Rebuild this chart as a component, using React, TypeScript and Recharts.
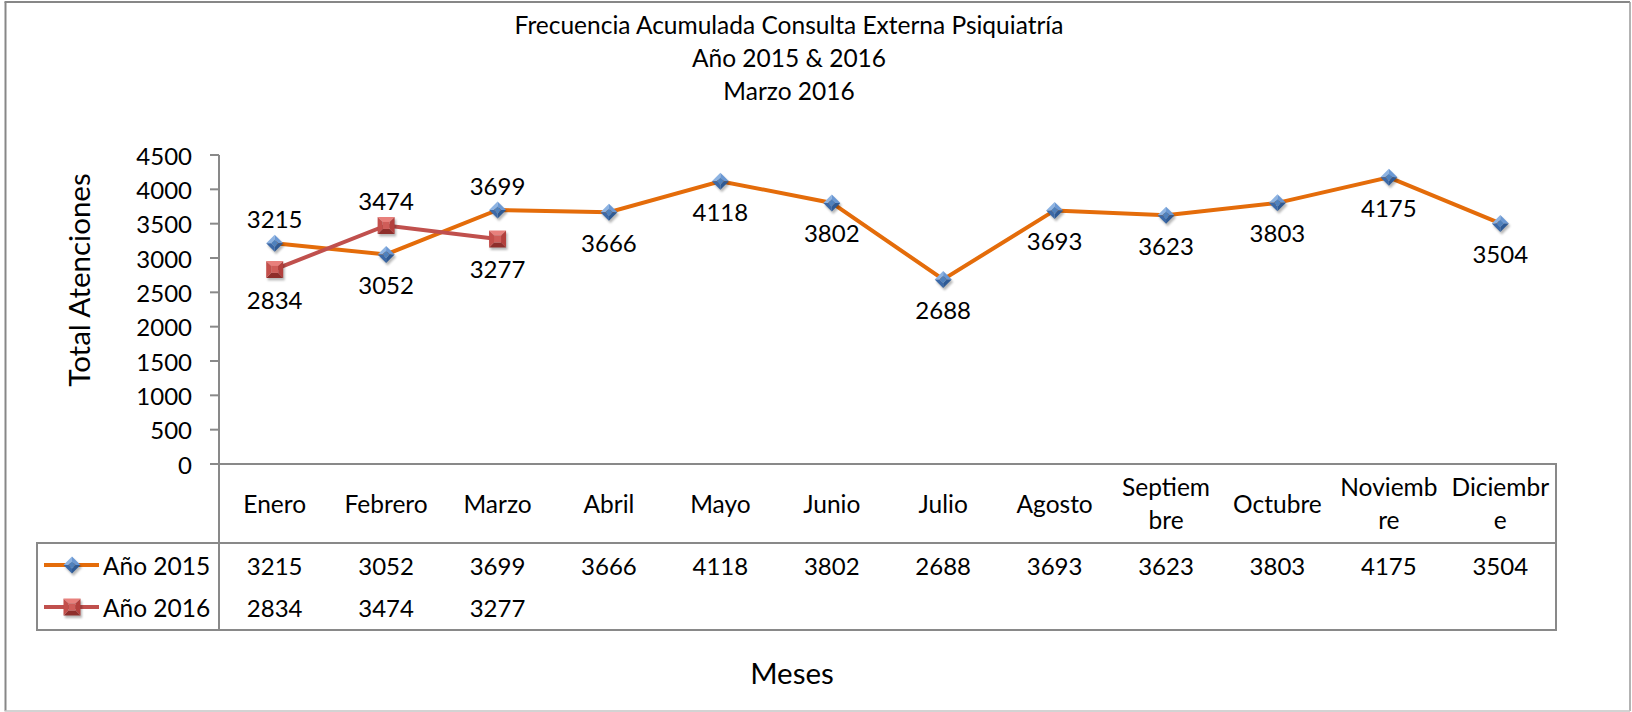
import React from 'react';
import { LineChart, Line, XAxis, YAxis, LabelList } from 'recharts';

// ---------- data ----------
const months = ['Enero', 'Febrero', 'Marzo', 'Abril', 'Mayo', 'Junio', 'Julio', 'Agosto', 'Septiembre', 'Octubre', 'Noviembre', 'Diciembre'];
const monthTickLines = [['Enero'], ['Febrero'], ['Marzo'], ['Abril'], ['Mayo'], ['Junio'], ['Julio'], ['Agosto'], ['Septiem', 'bre'], ['Octubre'], ['Noviemb', 're'], ['Diciembr', 'e']];
const values2015 = [3215, 3052, 3699, 3666, 4118, 3802, 2688, 3693, 3623, 3803, 4175, 3504];
const values2016: (number | null)[] = [2834, 3474, 3277, null, null, null, null, null, null, null, null, null];
const yTicks = [0, 500, 1000, 1500, 2000, 2500, 3000, 3500, 4000, 4500];
const seriesNames = ['Año 2015', 'Año 2016'];
const labelSide2015 = ['above', 'below', 'above', 'below', 'below', 'below', 'below', 'below', 'below', 'below', 'below', 'below'];
const labelSide2016 = ['below', 'above', 'below'];
const titleLines = ['Frecuencia Acumulada Consulta Externa Psiquiatría', 'Año 2015 & 2016', 'Marzo 2016'];
const yAxisTitle = 'Total Atenciones';
const xAxisTitle = 'Meses';

// ---------- layout / style ----------
const W = 1632;
const H = 712;
const PLOT_LEFT = 219;
const PLOT_RIGHT = 1556;
const PLOT_TOP = 155;
const PLOT_BOTTOM = 464;
const TABLE_TOP = 543;
const TABLE_BOTTOM = 630;
const TABLE_LEFT = 37;
const ROW1_Y = 565;
const ROW2_Y = 607;
const CAT_Y = 503;
const BAND = (PLOT_RIGHT - PLOT_LEFT) / months.length;
const FONT = 'Lato, "Open Sans", sans-serif';
const FS = 24;
const TXT_FS = 24.5;
const BIG_FS = 29.5;
const GRID = '#898989';
const ORANGE = '#E46C0A';
const RED = '#C0504D';
const LINE_W = 4;

const data = months.map((m, i) => ({ month: m, a2015: values2015[i], a2016: values2016[i] }));

const Diamond = ({ cx, cy }: { cx: number; cy: number }) => {
  const r = 8.5;
  const ri = 3.6;
  const T = [cx, cy - r], R = [cx + r, cy], B = [cx, cy + r], L = [cx - r, cy];
  const t = [cx, cy - ri], rr = [cx + ri, cy], b = [cx, cy + ri], l = [cx - ri, cy];
  const p = (...pts: number[][]) => pts.map((q) => q.join(',')).join(' ');
  return (
    <g>
      <polygon points={p([T[0] + 1.5, T[1] + 2.5], [R[0] + 1.5, R[1] + 2.5], [B[0] + 1.5, B[1] + 2.5], [L[0] + 1.5, L[1] + 2.5])} fill="rgba(0,0,0,0.28)" filter="url(#mkShadow)" />
      <polygon points={p(L, T, t, l)} fill="#8DB3E2" />
      <polygon points={p(T, R, rr, t)} fill="#6A98D4" />
      <polygon points={p(R, B, b, rr)} fill="#2E5A95" />
      <polygon points={p(B, L, l, b)} fill="#3B69A8" />
      <polygon points={p(t, rr, b, l)} fill="#4F81BD" />
    </g>
  );
};

const Square = ({ cx, cy }: { cx: number; cy: number }) => {
  const h = 8.5;
  const hi = 3.5;
  const p = (...pts: number[][]) => pts.map((q) => `${cx + q[0]},${cy + q[1]}`).join(' ');
  return (
    <g>
      <rect x={cx - h + 1.5} y={cy - h + 2.5} width={2 * h} height={2 * h} fill="rgba(0,0,0,0.28)" filter="url(#mkShadow)" />
      <polygon points={p([-h, -h], [h, -h], [hi, -hi], [-hi, -hi])} fill="#E8807C" />
      <polygon points={p([h, -h], [h, h], [hi, hi], [hi, -hi])} fill="#B3403D" />
      <polygon points={p([h, h], [-h, h], [-hi, hi], [hi, hi])} fill="#8E2E2B" />
      <polygon points={p([-h, h], [-h, -h], [-hi, -hi], [-hi, hi])} fill="#C44F4B" />
      <rect x={cx - hi} y={cy - hi} width={2 * hi} height={2 * hi} fill="#CF5D59" />
    </g>
  );
};

const renderDiamond = (props: any) => {
  const { cx, cy, index } = props;
  if (cx == null || cy == null || props.value == null) return <g key={`d15-${index}`} />;
  return <g key={`d15-${index}`}><Diamond cx={cx} cy={cy} /></g>;
};
const renderSquare = (props: any) => {
  const { cx, cy, index } = props;
  if (cx == null || cy == null || props.value == null) return <g key={`d16-${index}`} />;
  return <g key={`d16-${index}`}><Square cx={cx} cy={cy} /></g>;
};

const makeLabel = (sides: string[]) => (props: any) => {
  const { x, y, value, index } = props;
  if (value == null || x == null || y == null) return null;
  const side = sides[index] ?? 'below';
  const dy = side === 'above' ? -25 : 30;
  return (
    <text x={x} y={y + dy} textAnchor="middle" dominantBaseline="central" fontFamily={FONT} fontSize={FS} fill="#000">
      {value}
    </text>
  );
};

const MonthTick = (props: any) => {
  const { x, payload } = props;
  const i = months.indexOf(payload.value);
  const lines = monthTickLines[i] ?? [String(payload.value)];
  const lh = 33;
  const start = CAT_Y - ((lines.length - 1) * lh) / 2;
  const v15 = values2015[i];
  const v16 = values2016[i];
  return (
    <g>
      {lines.map((ln, k) => (
        <text key={k} x={x} y={start + k * lh} textAnchor="middle" dominantBaseline="central" fontFamily={FONT} fontSize={TXT_FS} fill="#000">
          {ln}
        </text>
      ))}
      {v15 != null && (
        <text x={x} y={ROW1_Y} textAnchor="middle" dominantBaseline="central" fontFamily={FONT} fontSize={FS} fill="#000">{v15}</text>
      )}
      {v16 != null && (
        <text x={x} y={ROW2_Y} textAnchor="middle" dominantBaseline="central" fontFamily={FONT} fontSize={FS} fill="#000">{v16}</text>
      )}
    </g>
  );
};

const YTick = (props: any) => {
  const { x, y, payload } = props;
  return (
    <text x={x} y={y} textAnchor="end" dominantBaseline="central" fontFamily={FONT} fontSize={FS} fill="#000">
      {payload.value}
    </text>
  );
};

export default function App() {
  return (
    <div style={{ position: 'absolute', left: 0, top: 0, width: W, height: H, background: '#fff' }}>
      <LineChart
        width={W}
        height={H}
        data={data}
        margin={{ top: PLOT_TOP, right: W - PLOT_RIGHT, bottom: 0, left: 0 }}
      >
        <defs>
          <filter id="mkShadow" x="-50%" y="-50%" width="200%" height="200%">
            <feGaussianBlur stdDeviation="1.3" />
          </filter>
        </defs>
        <XAxis
          dataKey="month"
          height={H - PLOT_BOTTOM}
          padding={{ left: BAND / 2, right: BAND / 2 }}
          axisLine={{ stroke: GRID, strokeWidth: 2 }}
          tickLine={false}
          tickSize={0}
          tickMargin={0}
          interval={0}
          tick={<MonthTick />}
        />
        <YAxis
          width={PLOT_LEFT}
          domain={[0, 4500]}
          ticks={yTicks}
          interval={0}
          axisLine={{ stroke: GRID, strokeWidth: 2 }}
          tickLine={{ stroke: GRID, strokeWidth: 2 }}
          tickSize={9}
          tickMargin={18}
          tick={<YTick />}
        />
        <Line
          type="linear"
          dataKey="a2015"
          name={seriesNames[0]}
          stroke={ORANGE}
          strokeWidth={LINE_W}
          dot={renderDiamond}
          activeDot={false}
          isAnimationActive={false}
        >
          <LabelList dataKey="a2015" content={makeLabel(labelSide2015)} />
        </Line>
        <Line
          type="linear"
          dataKey="a2016"
          name={seriesNames[1]}
          stroke={RED}
          strokeWidth={LINE_W}
          dot={renderSquare}
          activeDot={false}
          connectNulls={false}
          isAnimationActive={false}
        >
          <LabelList dataKey="a2016" content={makeLabel(labelSide2016)} />
        </Line>
      </LineChart>
      <svg width={W} height={H} style={{ position: 'absolute', left: 0, top: 0, pointerEvents: 'none' }}>
        {/* outer frame */}
        <line x1={5.5} y1={2} x2={5.5} y2={711} stroke="#878787" strokeWidth={2} />
        <line x1={4.5} y1={2} x2={1630} y2={2} stroke="#878787" strokeWidth={2} />
        <line x1={1630} y1={2} x2={1630} y2={711} stroke="#9a9a9a" strokeWidth={1.5} />
        <line x1={4.5} y1={711} x2={1630} y2={711} stroke="#c4c4c4" strokeWidth={1.5} />
        {/* titles */}
        {titleLines.map((t, i) => (
          <text key={i} x={789} y={24 + i * 33} textAnchor="middle" dominantBaseline="central" fontFamily={FONT} fontSize={TXT_FS} fill="#000">
            {t}
          </text>
        ))}
        <text x={78} y={280} transform="rotate(-90 78 280)" textAnchor="middle" dominantBaseline="central" fontFamily={FONT} fontSize={BIG_FS} fill="#000">
          {yAxisTitle}
        </text>
        <text x={792} y={672} textAnchor="middle" dominantBaseline="central" fontFamily={FONT} fontSize={BIG_FS} fill="#000">
          {xAxisTitle}
        </text>
        {/* data table borders */}
        <line x1={PLOT_LEFT} y1={PLOT_BOTTOM} x2={PLOT_LEFT} y2={TABLE_BOTTOM} stroke={GRID} strokeWidth={2} />
        <line x1={PLOT_RIGHT} y1={PLOT_BOTTOM - 1} x2={PLOT_RIGHT} y2={TABLE_BOTTOM + 1} stroke={GRID} strokeWidth={2} />
        <line x1={TABLE_LEFT - 1} y1={TABLE_TOP} x2={PLOT_RIGHT + 1} y2={TABLE_TOP} stroke={GRID} strokeWidth={2} />
        <line x1={TABLE_LEFT - 1} y1={TABLE_BOTTOM} x2={PLOT_RIGHT + 1} y2={TABLE_BOTTOM} stroke={GRID} strokeWidth={2} />
        <line x1={TABLE_LEFT} y1={TABLE_TOP} x2={TABLE_LEFT} y2={TABLE_BOTTOM} stroke={GRID} strokeWidth={2} />
        {/* legend keys */}
        <line x1={44} y1={ROW1_Y} x2={99} y2={ROW1_Y} stroke={ORANGE} strokeWidth={LINE_W} />
        <Diamond cx={72} cy={ROW1_Y} />
        <text x={103} y={ROW1_Y} dominantBaseline="central" fontFamily={FONT} fontSize={TXT_FS} fill="#000">{seriesNames[0]}</text>
        <line x1={44} y1={ROW2_Y} x2={99} y2={ROW2_Y} stroke={RED} strokeWidth={LINE_W} />
        <Square cx={72} cy={ROW2_Y} />
        <text x={103} y={ROW2_Y} dominantBaseline="central" fontFamily={FONT} fontSize={TXT_FS} fill="#000">{seriesNames[1]}</text>
      </svg>
    </div>
  );
}
